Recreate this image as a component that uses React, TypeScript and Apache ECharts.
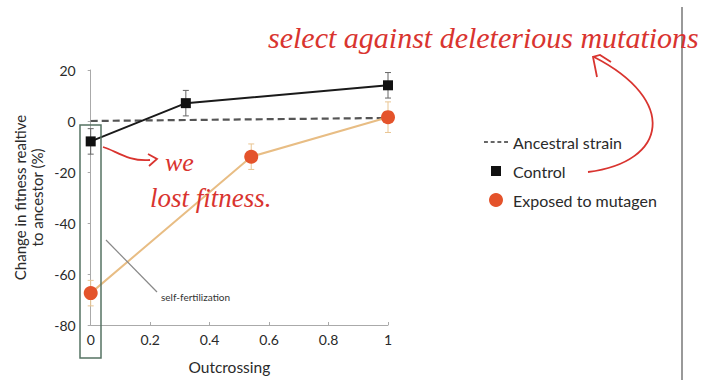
import React, { useEffect, useRef } from "react";
import * as echarts from "echarts";

const xTicks = [0, 0.2, 0.4, 0.6, 0.8, 1];
const yTicks = [-80, -60, -40, -20, 0, 20];

const ancestralX = [0, 1];
const ancestralY = [0, 1.2];

const controlX = [0, 0.32, 1];
const controlY = [-8, 7, 14];
const controlErr = [5, 5, 5];

const mutagenX = [0, 0.54, 1];
const mutagenY = [-67.5, -14, 1.5];
const mutagenErr = [5, 5, 6];

const FONT = "Lato";
const RED = "#d9342f";

function errorSeries(xs: number[], ys: number[], errs: number[], color: string) {
  return {
    type: "custom",
    silent: true,
    z: 3,
    data: xs.map((x, i) => [x, ys[i] - errs[i], ys[i] + errs[i]]),
    renderItem: (params: any, api: any) => {
      const x = api.value(0);
      const lo = api.coord([x, api.value(1)]);
      const hi = api.coord([x, api.value(2)]);
      const w = 3;
      const style = { stroke: color, lineWidth: 1 };
      return {
        type: "group",
        children: [
          { type: "line", shape: { x1: lo[0], y1: lo[1], x2: hi[0], y2: hi[1] }, style },
          { type: "line", shape: { x1: lo[0] - w, y1: lo[1], x2: lo[0] + w, y2: lo[1] }, style },
          { type: "line", shape: { x1: hi[0] - w, y1: hi[1], x2: hi[0] + w, y2: hi[1] }, style },
        ],
      };
    },
  };
}

export default function App() {
  const ref = useRef<HTMLDivElement>(null);
  useEffect(() => {
    if (!ref.current) return;
    const chart = echarts.init(ref.current, null, { renderer: "svg" });
    chart.setOption({
      animation: false,
      backgroundColor: "#ffffff",
      textStyle: { fontFamily: FONT },
      grid: { left: 90.7, right: 314, top: 70, bottom: 54 },
      legend: {
        orient: "vertical",
        left: 479,
        top: 129,
        itemWidth: 24,
        itemHeight: 14,
        itemGap: 13,
        textStyle: { fontFamily: FONT, fontSize: 16, color: "#2a2a2a" },
        data: [
          {
            name: "Ancestral strain",
            icon: "path://M0,0h3.5v1.6h-3.5zM6,0h3.5v1.6h-3.5zM12,0h3.5v1.6h-3.5zM18,0h3.5v1.6h-3.5z",
            itemStyle: { color: "#666" },
          },
          { name: "Control", icon: "path://M0,0M2,2h10v10h-10zM14,14" },
          { name: "Exposed to mutagen", icon: "circle" },
        ],
      },
      xAxis: {
        type: "value",
        min: xTicks[0],
        max: xTicks[xTicks.length - 1],
        interval: 0.2,
        name: "Outcrossing",
        nameLocation: "middle",
        nameGap: 34,
        nameTextStyle: { fontFamily: FONT, fontSize: 15.5, color: "#2a2a2a", padding: [0, 20, 0, 0] },
        axisLine: { show: true, onZero: false, lineStyle: { color: "#aaa", width: 1 } },
        axisTick: { show: true, inside: true, length: 3, lineStyle: { color: "#aaa" } },
        axisLabel: { fontFamily: FONT, fontSize: 14, color: "#2a2a2a", margin: 7 },
        splitLine: { show: false },
      },
      yAxis: {
        type: "value",
        min: yTicks[0],
        max: yTicks[yTicks.length - 1],
        interval: 20,
        offset: 9,
        name: "Change in fitness realtive\nto ancestor (%)",
        nameLocation: "middle",
        nameGap: 36,
        nameTextStyle: { fontFamily: FONT, fontSize: 15, color: "#2a2a2a", lineHeight: 17, align: "center" },
        axisLine: { show: true, lineStyle: { color: "#aaa", width: 1 } },
        axisTick: { show: true, length: 3, lineStyle: { color: "#aaa" } },
        axisLabel: { fontFamily: FONT, fontSize: 14, color: "#2a2a2a", margin: 6 },
        splitLine: { show: false },
      },
      series: [
        {
          name: "Ancestral strain",
          type: "line",
          z: 1,
          symbol: "none",
          data: ancestralX.map((x, i) => [x, ancestralY[i]]),
          lineStyle: { color: "#555", width: 2.2, type: [7, 4] },
          itemStyle: { color: "#666" },
        },
        errorSeries(mutagenX, mutagenY, mutagenErr, "#e9c592"),
        errorSeries(controlX, controlY, controlErr, "#666"),
        {
          name: "Control",
          type: "line",
          z: 4,
          symbol: "rect",
          symbolSize: 10,
          data: controlX.map((x, i) => [x, controlY[i]]),
          lineStyle: { color: "#1a1a1a", width: 2 },
          itemStyle: { color: "#111" },
        },
        {
          name: "Exposed to mutagen",
          type: "line",
          z: 4,
          symbol: "circle",
          symbolSize: 14,
          data: mutagenX.map((x, i) => [x, mutagenY[i]]),
          lineStyle: { color: "#e8bd84", width: 2 },
          itemStyle: { color: "#e4532b" },
        },
      ],
      graphic: [
        {
          type: "rect",
          shape: { x: 80, y: 125, width: 21, height: 233 },
          style: { fill: "none", stroke: "#557363", lineWidth: 1.5 },
          z: 10,
        },
        {
          type: "line",
          shape: { x1: 106, y1: 240, x2: 157, y2: 292 },
          style: { stroke: "#888", lineWidth: 1.2 },
          z: 10,
        },
        {
          type: "text",
          x: 161,
          y: 297,
          style: { text: "self-fertilization", fontFamily: FONT, fontSize: 10, fill: "#333", verticalAlign: "middle" },
          z: 10,
        },
        {
          type: "line",
          shape: { x1: 682, y1: 7, x2: 682, y2: 380 },
          style: { stroke: "#999", lineWidth: 2 },
          z: 10,
        },
        {
          type: "text",
          x: 268,
          y: 37,
          style: {
            text: "select against deleterious mutations",
            fontFamily: "Liberation Serif",
            fontStyle: "italic",
            fontSize: 30,
            fill: RED,
            verticalAlign: "middle",
          },
          z: 11,
        },
        {
          type: "bezierCurve",
          shape: { x1: 588, y1: 172, cpx1: 668, cpy1: 162, cpx2: 678, cpy2: 100, x2: 594, y2: 57 },
          style: { stroke: RED, lineWidth: 1.8, fill: "none" },
          z: 11,
        },
        {
          type: "polyline",
          shape: { points: [[597, 77], [593, 57], [600, 55], [611, 62]] },
          style: { stroke: RED, lineWidth: 1.8, fill: "none" },
          z: 11,
        },
        {
          type: "bezierCurve",
          shape: { x1: 103, y1: 147, cpx1: 115, cpy1: 150, cpx2: 128, cpy2: 162, x2: 150, y2: 160 },
          style: { stroke: RED, lineWidth: 1.8, fill: "none" },
          z: 11,
        },
        {
          type: "polyline",
          shape: { points: [[148, 154], [157, 159], [149, 166]] },
          style: { stroke: RED, lineWidth: 1.8, fill: "none" },
          z: 11,
        },
        {
          type: "text",
          x: 165,
          y: 162,
          style: { text: "we", fontFamily: "Liberation Serif", fontStyle: "italic", fontSize: 26, fill: RED, verticalAlign: "middle" },
          z: 11,
        },
        {
          type: "text",
          x: 150,
          y: 198,
          style: { text: "lost fitness.", fontFamily: "Liberation Serif", fontStyle: "italic", fontSize: 27, fill: RED, verticalAlign: "middle" },
          z: 11,
        },
      ],
    });
    return () => chart.dispose();
  }, []);
  return <div ref={ref} style={{ position: "absolute", left: 0, top: 0, width: 702, height: 380 }} />;
}
